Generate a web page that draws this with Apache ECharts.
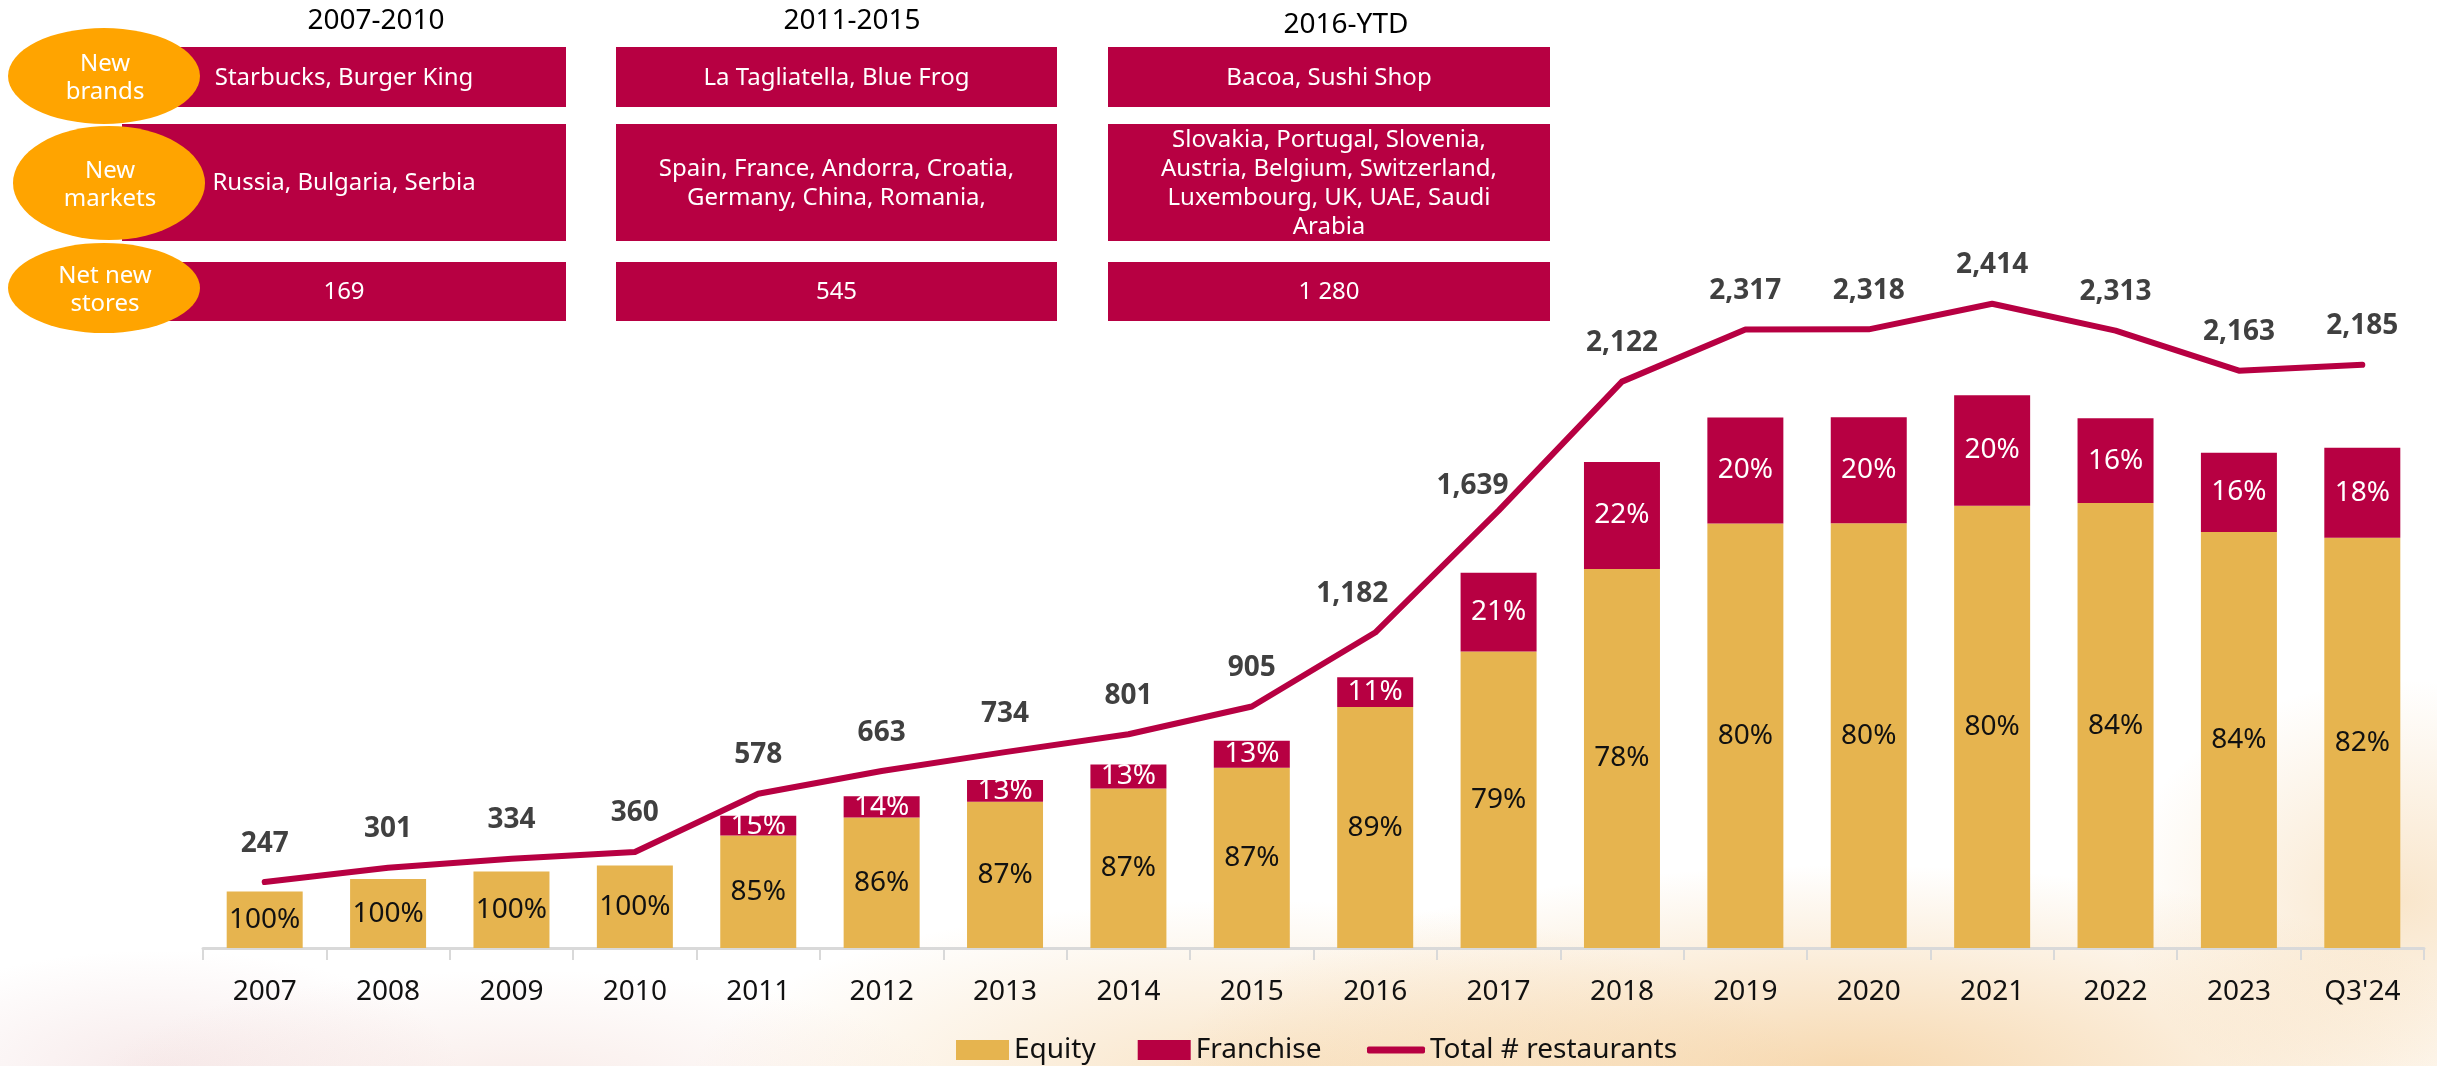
<!DOCTYPE html>
<html>
<head>
<meta charset="utf-8">
<title>Restaurant network growth</title>
<script src="https://cdn.jsdelivr.net/npm/echarts@6/dist/echarts.min.js"></script>
<style>
  html, body { margin: 0; padding: 0; }
  body {
    width: 2437px; height: 1066px; overflow: hidden;
    background:
      radial-gradient(ellipse 680px 210px at 1850px 1075px, rgba(238, 176, 92, 0.50), rgba(238, 176, 92, 0) 100%),
      radial-gradient(ellipse 560px 180px at 1250px 1080px, rgba(240, 188, 115, 0.40), rgba(240, 188, 115, 0) 100%),
      radial-gradient(ellipse 280px 220px at 2400px 900px, rgba(240, 192, 125, 0.40), rgba(240, 192, 125, 0) 100%),
      radial-gradient(ellipse 420px 110px at 520px 1080px, rgba(235, 195, 185, 0.30), rgba(235, 195, 185, 0) 100%),
      radial-gradient(ellipse 300px 120px at 160px 1070px, rgba(230, 190, 190, 0.32), rgba(230, 190, 190, 0) 100%),
      #ffffff;
  }
  #chart { width: 2437px; height: 1066px; }
</style>
</head>
<body>
<div id="chart"></div>
<script>
// Yearly restaurant count and ownership split
const categories = ['2007', '2008', '2009', '2010', '2011', '2012', '2013', '2014', '2015',
  '2016', '2017', '2018', '2019', '2020', '2021', '2022', '2023', "Q3'24"];
const totalRestaurants = [247, 301, 334, 360, 578, 663, 734, 801, 905,
  1182, 1639, 2122, 2317, 2318, 2414, 2313, 2163, 2185];
const equityShare = [100, 100, 100, 100, 85, 86, 87, 87, 87, 89, 79, 78, 80, 80, 80, 84, 84, 82];
const franchiseShare = [0, 0, 0, 0, 15, 14, 13, 13, 13, 11, 21, 22, 20, 20, 20, 16, 16, 18];

// Expansion summary table above the chart
const periodHeaders = ['2007-2010', '2011-2015', '2016-YTD'];
const rowTitles = ['New\nbrands', 'New\nmarkets', 'Net new\nstores'];
const newBrands = ['Starbucks, Burger King', 'La Tagliatella, Blue Frog', 'Bacoa, Sushi Shop'];
const newMarkets = [
  'Russia, Bulgaria, Serbia',
  'Spain, France, Andorra, Croatia,\nGermany, China, Romania,',
  'Slovakia, Portugal, Slovenia,\nAustria, Belgium, Switzerland,\nLuxembourg, UK, UAE, Saudi\nArabia'
];
const netNewStores = ['169', '545', '1 280'];

const CRIMSON = '#B70042';
const GOLD = '#E6B44F';
const ORANGE = '#FFA400';
const FONT = 'Noto Sans';

const equityValues = totalRestaurants.map((t, i) => t * equityShare[i] / 100);
const franchiseValues = totalRestaurants.map((t, i) => t * franchiseShare[i] / 100);

// Table geometry
const colX = [[122, 566], [616, 1057], [1108, 1550]];
const rowY = [[47, 107], [124, 241], [262, 321]];
const headerPos = [[376, 21], [852, 21], [1346, 25]];
const badges = [[104, 76, 96, 48], [109, 183, 96, 57], [104, 288, 96, 45]];

const graphics = [];
const rows = [newBrands, newMarkets, netNewStores];
periodHeaders.forEach((h, c) => {
  graphics.push({
    type: 'text', x: headerPos[c][0], y: headerPos[c][1],
    style: { text: h, fill: '#000', font: `28px "${FONT}"`, align: 'center', verticalAlign: 'middle' }
  });
});
rows.forEach((rowData, r) => {
  rowData.forEach((txt, c) => {
    const [x0, x1] = colX[c];
    const [y0, y1] = rowY[r];
    graphics.push({
      type: 'rect', shape: { x: x0, y: y0, width: x1 - x0, height: y1 - y0 },
      style: { fill: CRIMSON }
    });
    graphics.push({
      type: 'text', x: (x0 + x1) / 2, y: (y0 + y1) / 2 + 1,
      style: { text: txt, fill: '#fff', font: `24px "${FONT}"`, lineHeight: 29,
        align: 'center', verticalAlign: 'middle' }
    });
  });
});
badges.forEach(([cx, cy, rx, ry], r) => {
  graphics.push({
    type: 'circle', x: cx, y: cy, scaleX: rx / ry, scaleY: 1,
    shape: { cx: 0, cy: 0, r: ry }, style: { fill: ORANGE }
  });
  graphics.push({
    type: 'text', x: cx + 1, y: cy + 2,
    style: { text: rowTitles[r], fill: '#fff', font: `24px "${FONT}"`, lineHeight: 28,
      align: 'center', verticalAlign: 'middle' }
  });
});

// Per-point nudges for total labels that sit beside the steep part of the line
const totalLabelShift = { 9: [-23, 0], 10: [-26, 14] };

const chart = echarts.init(document.getElementById('chart'), null, { renderer: 'canvas' });
chart.setOption({
  backgroundColor: 'transparent',
  animation: false,
  textStyle: { fontFamily: FONT },
  graphic: graphics,
  grid: { left: 203, right: 13, top: 261, bottom: 118, containLabel: false, outerBoundsMode: 'none' },
  legend: [
    {
      data: ['Equity', 'Franchise'],
      left: 951, top: 1031, orient: 'horizontal',
      icon: 'rect', itemWidth: 53, itemHeight: 20, itemGap: 42,
      textStyle: { fontFamily: FONT, fontSize: 28, color: '#111' },
      selectedMode: false
    },
    {
      data: ['Total # restaurants'],
      left: 1362, top: 1031,
      icon: 'roundRect', itemWidth: 58, itemHeight: 7,
      textStyle: { fontFamily: FONT, fontSize: 28, color: '#111' },
      selectedMode: false
    }
  ],
  xAxis: {
    type: 'category',
    data: categories,
    boundaryGap: true,
    axisLine: { show: true, lineStyle: { color: '#d9d9d9', width: 3 } },
    axisTick: { show: true, alignWithLabel: false, length: 12, lineStyle: { color: '#d9d9d9', width: 2 } },
    axisLabel: { color: '#111', fontFamily: FONT, fontSize: 28, margin: 30, interval: 0 },
    splitLine: { show: false }
  },
  yAxis: [
    { type: 'value', min: 0, max: 3000, show: false, splitLine: { show: false } },
    { type: 'value', min: 0, max: 2574, show: false, splitLine: { show: false } }
  ],
  series: [
    {
      name: 'Equity', type: 'bar', stack: 'units', yAxisIndex: 0, barWidth: 76,
      itemStyle: { color: GOLD },
      data: equityValues,
      label: {
        show: true, position: 'inside', color: '#111', fontFamily: FONT, fontSize: 28,
        formatter: p => equityShare[p.dataIndex] + '%'
      }
    },
    {
      name: 'Franchise', type: 'bar', stack: 'units', yAxisIndex: 0, barWidth: 76,
      itemStyle: { color: CRIMSON },
      data: franchiseValues,
      label: {
        show: true, position: 'inside', color: '#fff', fontFamily: FONT, fontSize: 28,
        formatter: p => franchiseShare[p.dataIndex] ? franchiseShare[p.dataIndex] + '%' : ''
      }
    },
    {
      name: 'Total # restaurants', type: 'line', yAxisIndex: 1, z: 5,
      symbol: 'circle', symbolSize: 1, showSymbol: true,
      itemStyle: { color: CRIMSON },
      lineStyle: { color: CRIMSON, width: 6, cap: 'round', join: 'round' },
      data: totalRestaurants.map((v, i) => {
        const item = { value: v };
        if (totalLabelShift[i]) item.label = { offset: totalLabelShift[i] };
        return item;
      }),
      label: {
        show: true, position: 'top', distance: 24,
        color: '#404040', fontFamily: FONT, fontSize: 28, fontWeight: 'bold',
        formatter: p => p.value.toLocaleString('en-US')
      }
    }
  ]
});
</script>
</body>
</html>
